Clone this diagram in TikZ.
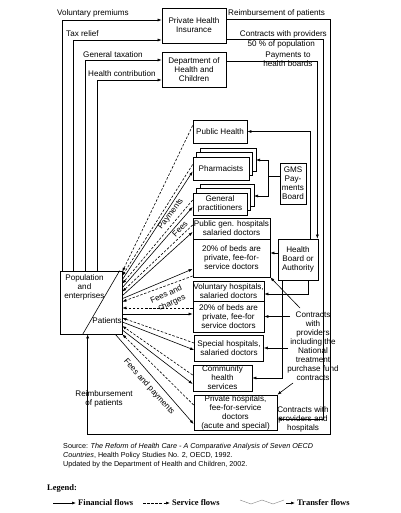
\documentclass[tikz,border=0pt]{standalone}
\usepackage{fontspec}
\setmainfont{Liberation Sans}
\newfontfamily\legfont{Liberation Serif}
\usetikzlibrary{arrows.meta,calc}
\begin{document}
\begin{tikzpicture}[x=1pt,y=-1pt,
  every node/.style={font=\fontsize{8.1}{9}\selectfont, inner sep=0pt, align=center},
  bx/.style={draw, line width=0.7pt, fill=white},
  ln/.style={line width=0.6pt},
  fin/.style={line width=0.6pt, -{Latex[length=4pt,width=3pt]}},
  svc/.style={line width=0.6pt, dash pattern=on 2.5pt off 1.6pt, -{Latex[length=4pt,width=3pt]}},
  legtext/.style={font=\legfont\bfseries\fontsize{8.5}{10}\selectfont}]
\useasboundingbox (0,0) rectangle (400,513);

% ---------- top boxes
\node[bx, minimum width=64pt, minimum height=35pt] (phi) at (194,25.5) {Private Health\\Insurance};
\node[bx, minimum width=64pt, minimum height=35pt] (dhc) at (194,69.5) {Department of\\Health and\\Children};

% ---------- population box
\node[draw, line width=0.7pt, minimum width=62pt, minimum height=63pt] (pop) at (91,302.5) {};
\draw[ln] ($(pop.south west)+(23,0)$) -- ($(pop.north west)+(60,0)$);
\node (popt) at (84.5,287.5) {Population\\and\\enterprises};
\node (pat) at (107,321) {Patients};

% ---------- providers
\node[bx, minimum width=54pt, minimum height=23pt] (ph) at (220,131.5) {Public Health};
\draw[ln, fill=white] (200,148) rectangle (256,171);
\draw[ln, fill=white] (196.5,152.5) rectangle (252.5,175.5);
\node[bx, minimum width=56pt, minimum height=23pt] (pharm) at (221,168.5) {Pharmacists};
\draw[ln, fill=white] (200,184) rectangle (254,206);
\draw[ln, fill=white] (196.5,188.5) rectangle (250.5,210.5);
\node[bx, minimum width=54pt, minimum height=22pt] (gp) at (220,204) {General\\practitioners};
\node[bx, minimum width=77pt, minimum height=21pt] (pgh) at (231.5,228.5) {Public gen. hospitals\\salaried doctors};
\node[bx, minimum width=77pt, minimum height=38pt] (pgp) at (231.5,258) {20\% of beds are\\private, fee-for-\\service doctors};
\node[bx, minimum width=71pt, minimum height=20pt] (vh) at (228.5,291) {Voluntary hospitals,\\salaried doctors};
\node[bx, minimum width=71pt, minimum height=31pt] (vp) at (228.5,316.5) {20\% of beds are\\private, fee-for\\service doctors};
\node[bx, minimum width=69pt, minimum height=26pt] (sh) at (229,348) {Special hospitals,\\salaried doctors};
\node[bx, minimum width=59pt, minimum height=26pt] (chs) at (222.5,378) {Community\\health\\services};
\node[bx, minimum width=83pt, minimum height=35pt] (prh) at (235.5,412.5) {Private hospitals,\\fee-for-service\\doctors\\(acute and special)};
\node[bx, minimum width=26pt, minimum height=41pt] (gms) at (293,183.5) {GMS\\Pay-\\ments\\Board};
\node[bx, minimum width=40pt, minimum height=41pt] (hb) at (298,259.5) {Health\\Board or\\Authority};

% ---------- left financial flows
\draw[fin] ($(pop.north west)+(3,0)$) |- ($(phi.west)+(0,-5.5)$);
\draw[fin] ($(pop.north west)+(14,0)$) |- ($(phi.west)+(0,14.5)$);
\draw[fin] ($(pop.north west)+(26,0)$) |- ($(dhc.west)+(0,-9.5)$);
\draw[fin] ($(pop.north west)+(38,0)$) |- ($(dhc.west)+(0,10.5)$);
\node[anchor=base west] (lvp) at (57,16) {Voluntary premiums};
\node[anchor=base west] (ltr) at (66,37) {Tax relief};
\node[anchor=base west] (lgt) at (83,57.5) {General taxation};
\node[anchor=base west] (lhc) at (88,77) {Health contribution};

% ---------- right financial flows
\coordinate (rb) at (330,434);
\draw[fin] ($(phi.east)+(0,-6.5)$) -| (rb) -| ($(pop.south west)+(28,0)$);
\node[anchor=base west] (lrp) at (228,16) {Reimbursement of patients};
\node (lrp2) at (104,398.5) {Reimbursement\\of patients};

\coordinate (c50) at (323,419);
\draw[fin] ($(phi.east)+(0,13.5)$) -| (c50) -- ($(prh.east)+(0,6.5)$);
\node[anchor=base east] (lcp) at (327,36.5) {Contracts with providers};
\node[anchor=base east] (lcp2) at (315,46.5) {50 \% of population};
\node (lcph) at (303,419.5) {Contracts with\\providers and\\hospitals};

\draw[fin] ($(dhc.east)+(0,-8.5)$) -| ($(hb.north east)+(-1,0)$);
\node (lpb) at (288,59.5) {Payments to\\health boards};

% ---------- health board and GMS flows
\draw[fin] ($(hb.north east)+(-8,0)$) |- (ph.east);
\coordinate (gj) at (268,176.5);
\draw[ln] ($(gms.west)+(0,-7)$) -- (gj);
\draw[fin] (gj) |- (256,160);
\draw[fin] (gj) |- (254,196);
\coordinate (h1) at ($(hb.west)+(0,-6.5)$);
\draw[fin] (h1) -- (h1 -| pgp.east);
\draw[fin] ($(hb.south east)+(-10,0)$) |- ($(vh.east)+(0,3)$);
\draw[fin] ($(hb.south west)+(5,0)$) |- (chs.east);

% ---------- contracts incl. NTPF
\node (ntp) at (313,346.5) {Contracts\\with\\providers\\including the\\National\\treatment\\purchase fund\\contracts};
\coordinate (n1) at (300,308);
\coordinate (n2) at (290,316.5);
\coordinate (n3) at (288,348);
\coordinate (n4) at (293,383);
\draw[fin] (n1) -- (pgp.south east);
\draw[fin] (n2) -- (vp.east);
\draw[fin] (n3) -- (sh.east);
\draw[fin] (n4) -- (prh.north east);

% ---------- fan between population and providers
\draw[svc] ($(ph.west)+(0,-6)$) -- ($(pop.north east)+(0,1)$);
\draw[svc] ($(pharm.west)+(0,-4)$) -- ($(pop.north east)+(0,5)$);
\draw[fin] ($(pop.north east)+(0,9)$) -- ($(pharm.west)+(0,3)$);
\draw[svc] ($(gp.west)+(0,-4)$) -- ($(pop.north east)+(0,13)$);
\draw[fin] ($(pop.north east)+(0,17)$) -- ($(gp.west)+(0,3)$);
\draw[svc] ($(pgh.west)+(0,-3.5)$) -- ($(pop.north east)+(0,21)$);
\draw[fin] ($(pop.north east)+(0,25)$) -- ($(pgh.west)+(0,3.5)$);
\draw[svc] ($(pgp.west)+(0,18)$) -- ($(pop.north east)+(0,31)$);
\draw[fin] ($(pop.north east)+(0,28)$) -- ($(pgp.west)+(0,11)$);
\draw[svc] ($(vp.west)+(0,-8.5)$) -- ($(pop.east)+(0,5.5)$);
\draw[fin] ($(pop.east)+(0,11.5)$) -- ($(vp.west)+(0,-2.5)$);
\draw[svc] ($(sh.west)+(0,-5)$) -- ($(pop.east)+(0,15.5)$);
\draw[fin] ($(pop.east)+(0,19.5)$) -- ($(sh.west)+(0,2)$);
\draw[svc] ($(chs.west)+(0,-3)$) -- ($(pop.east)+(0,23.5)$);
\draw[fin] ($(pop.east)+(0,27.5)$) -- ($(chs.west)+(0,6)$);
\draw[svc] ($(prh.west)+(0,-7.5)$) -- (pop.south east);
\draw[fin] ($(pop.south east)+(-7,0)$) -- ($(prh.west)+(0,11.5)$);

\node[rotate=53] (lpay) at (171,214) {Payments};
\node[rotate=46] (lfee) at (180,229) {Fees};
\node[rotate=24] (lfc1) at (166,294) {Fees and};
\node[rotate=24] (lfc2) at (172,303) {charges};
\node[rotate=-48] (lfp) at (149,387) {Fees and payments};

% ---------- source
\node[anchor=north west, align=left, font=\fontsize{7.2}{9}\selectfont] (src) at (63,443)
  {Source: \textit{The Reform of Health Care - A Comparative Analysis of Seven OECD}\\
   \textit{Countries}, Health Policy Studies No. 2, OECD, 1992.\\
   Updated by the Department of Health and Children, 2002.};

% ---------- legend
\node[anchor=base west, legtext] (leg) at (47,490) {Legend:};
\coordinate (l1a) at (53,503);  \coordinate (l1b) at (76,503);
\draw[fin] (l1a) -- (l1b);
\node[anchor=west, legtext] (lff) at (78,503) {Financial flows};
\coordinate (l2a) at (143,503); \coordinate (l2b) at (170,503);
\draw[svc] (l2a) -- (l2b);
\node[anchor=west, legtext] (lsf) at (172,503) {Service flows};
\draw[line width=0.4pt, gray] (240,500) -- (251,504) -- (262,500) -- (273,504) -- (284,500);
\coordinate (l3a) at (286,503); \coordinate (l3b) at (295,503);
\draw[fin] (l3a) -- (l3b);
\node[anchor=west, legtext] (ltf) at (297,503) {Transfer flows};
\end{tikzpicture}
\end{document}
